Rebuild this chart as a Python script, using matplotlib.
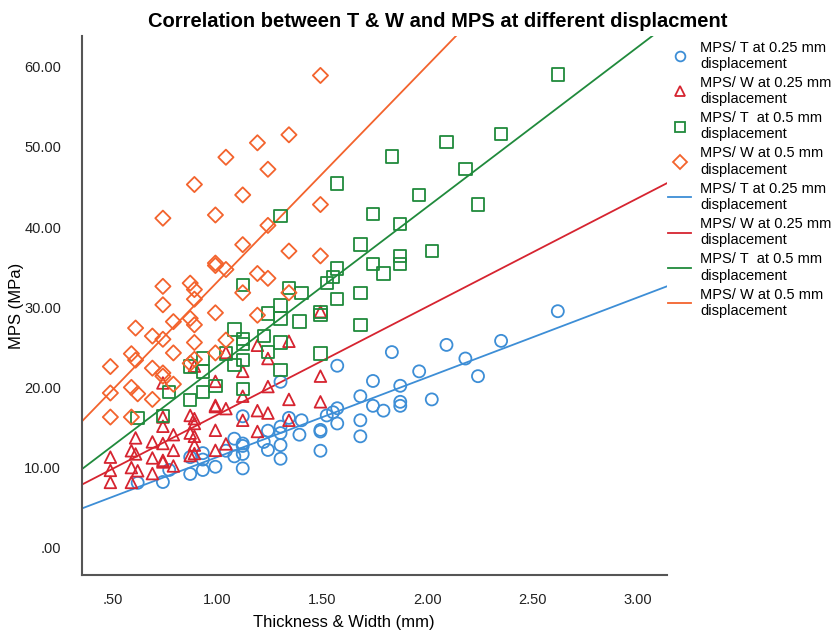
import numpy as np
import matplotlib
matplotlib.use('Agg')
import matplotlib.pyplot as plt
from matplotlib.lines import Line2D

plt.rcParams['font.family'] = ['Liberation Sans', 'DejaVu Sans']

# thickness (mm) and MPS at 0.25 / 0.5 mm displacement
thickness = [0.62, 0.74, 0.77, 0.87, 0.87, 0.93, 0.93, 0.93, 0.99, 1.04, 1.08, 1.08,
             1.12, 1.12, 1.12, 1.12, 1.12, 1.22, 1.24, 1.24, 1.30, 1.30, 1.30, 1.30,
             1.30, 1.34, 1.39, 1.40, 1.49, 1.49, 1.49, 1.52, 1.55, 1.57, 1.57, 1.57,
             1.68, 1.68, 1.68, 1.74, 1.74, 1.79, 1.83, 1.87, 1.87, 1.87, 1.96, 2.02,
             2.09, 2.18, 2.24, 2.35, 2.62]
mps_t_025 = [8.1, 8.2, 9.7, 9.2, 11.3, 9.7, 11.0, 11.8, 10.1, 12.1, 13.6, 11.4,
             16.4, 13.0, 12.7, 11.7, 9.9, 13.2, 14.6, 12.2, 20.7, 15.1, 14.3, 12.8,
             11.1, 16.2, 14.1, 15.9, 14.7, 14.5, 12.1, 16.5, 16.9, 22.7, 17.4, 15.5,
             18.9, 15.9, 13.9, 20.8, 17.7, 17.1, 24.4, 20.2, 18.2, 17.7, 22.0, 18.5,
             25.3, 23.6, 21.4, 25.8, 29.5]
mps_t_05 = [16.2, 16.4, 19.4, 18.4, 22.6, 19.4, 22.0, 23.6, 20.2, 24.2, 27.2, 22.8,
            32.8, 26.0, 25.4, 23.4, 19.8, 26.4, 29.2, 24.4, 41.4, 30.2, 28.6, 25.6,
            22.2, 32.4, 28.2, 31.8, 29.4, 29.0, 24.2, 33.0, 33.8, 45.4, 34.8, 31.0,
            37.8, 31.8, 27.8, 41.6, 35.4, 34.2, 48.8, 40.4, 36.4, 35.4, 44.0, 37.0,
            50.6, 47.2, 42.8, 51.6, 59.0]

# width (mm)
width = [1.49, 1.34, 1.19, 1.04, 1.24, 0.89, 1.12, 1.49, 0.74, 0.99, 1.24, 1.12,
         0.99, 0.99, 1.04, 1.19, 1.24, 0.74, 0.87, 0.89, 1.12, 0.89, 0.74, 0.99,
         1.19, 0.79, 0.87, 0.89, 0.61, 0.69, 0.74, 0.89, 1.04, 0.79, 0.99, 0.59,
         0.61, 0.49, 0.69, 0.89, 0.74, 0.74, 0.49, 0.59, 0.62, 0.69, 0.49, 0.59,
         0.79, 0.87, 1.34, 1.34, 1.49]
mps_w_025 = [29.45, 25.75, 25.25, 24.35, 23.6, 22.65, 22.0, 21.4, 20.55, 20.75, 20.1, 18.9,
             17.75, 17.6, 17.35, 17.1, 16.8, 16.3, 16.5, 16.1, 15.9, 15.5, 15.15, 14.65,
             14.5, 14.1, 14.3, 13.9, 13.7, 13.2, 13.0, 12.8, 12.95, 12.15, 12.15, 12.1,
             11.7, 11.3, 11.2, 11.75, 10.9, 10.7, 9.65, 10.0, 9.6, 9.25, 8.15, 8.15,
             10.2, 11.5, 18.5, 15.9, 18.2]
mps_w_05 = [58.9, 51.5, 50.5, 48.7, 47.2, 45.3, 44.0, 42.8, 41.1, 41.5, 40.2, 37.8,
            35.5, 35.2, 34.7, 34.2, 33.6, 32.6, 33.0, 32.2, 31.8, 31.0, 30.3, 29.3,
            29.0, 28.2, 28.6, 27.8, 27.4, 26.4, 26.0, 25.6, 25.9, 24.3, 24.3, 24.2,
            23.4, 22.6, 22.4, 23.5, 21.8, 21.4, 19.3, 20.0, 19.2, 18.5, 16.3, 16.3,
            20.4, 23.0, 37.0, 31.8, 36.4]

labels = ['MPS/ T at 0.25 mm\ndisplacement', 'MPS/ W at 0.25 mm\ndisplacement',
          'MPS/ T  at 0.5 mm\ndisplacement', 'MPS/ W at 0.5 mm\ndisplacement']
colors = ['#3d8ed6', '#d62430', '#208a3c', '#f3632d']
markers = ['o', '^', 's', 'D']
sizes = [75, 70, 80, 60]
series = [(thickness, mps_t_025), (width, mps_w_025), (thickness, mps_t_05), (width, mps_w_05)]

x_ticks = [0.5, 1.0, 1.5, 2.0, 2.5, 3.0]
x_tick_labels = ['.50', '1.00', '1.50', '2.00', '2.50', '3.00']
y_ticks = [0, 10, 20, 30, 40, 50, 60]
y_tick_labels = ['.00', '10.00', '20.00', '30.00', '40.00', '50.00', '60.00']

fig = plt.figure(figsize=(8.31, 6.31), dpi=100)
ax = fig.add_axes([0.0987, 0.0887, 0.704, 0.854])
ax.set_xlim(0.355, 3.14)
ax.set_ylim(-3.4, 63.8)

for (xs, ys), c, m, s in zip(series, colors, markers, sizes):
    ax.scatter(xs, ys, s=s, marker=m, facecolors='none', edgecolors=c, linewidths=1.3, zorder=3)

# fit lines across the whole x range
line_x = np.array(ax.get_xlim())
for (xs, ys), c in zip(series, colors):
    slope, intercept = np.polyfit(xs, ys, 1)
    ax.plot(line_x, slope * line_x + intercept, color=c, linewidth=1.3, zorder=2)
ax.set_xlim(0.355, 3.14)

for side in ['top', 'right']:
    ax.spines[side].set_visible(False)
for side in ['left', 'bottom']:
    ax.spines[side].set_color('#555555')
    ax.spines[side].set_linewidth(1.5)

ax.set_xticks(x_ticks)
ax.set_xticklabels(x_tick_labels)
ax.set_yticks(y_ticks)
ax.set_yticklabels(y_tick_labels)
ax.tick_params(length=0, labelsize=10.5, colors='#222222')
ax.tick_params(axis='y', pad=15)
ax.tick_params(axis='x', pad=13)

ax.set_xlabel('Thickness & Width (mm)', fontsize=12)
ax.xaxis.set_label_coords(0.448, -0.075)
ax.set_ylabel('MPS (MPa)', fontsize=12)
ax.yaxis.set_label_coords(-0.1, 0.5)
fig.text(0.527, 0.966, 'Correlation between T & W and MPS at different displacment',
         ha='center', va='center', fontsize=14.5, fontweight='bold')

handles = []
for c, m in zip(colors, markers):
    handles.append(Line2D([], [], linestyle='none', marker=m, markersize=7,
                          markerfacecolor='none', markeredgecolor=c, markeredgewidth=1.3))
for c in colors:
    handles.append(Line2D([], [], color=c, linewidth=1.3))
fig.legend(handles, labels + labels, loc='upper left', bbox_to_anchor=(0.797, 0.945),
           frameon=False, fontsize=10.5, handlelength=1.6, handletextpad=0.6,
           labelspacing=0.35, borderaxespad=0)

fig.savefig('out.png', dpi=100)
